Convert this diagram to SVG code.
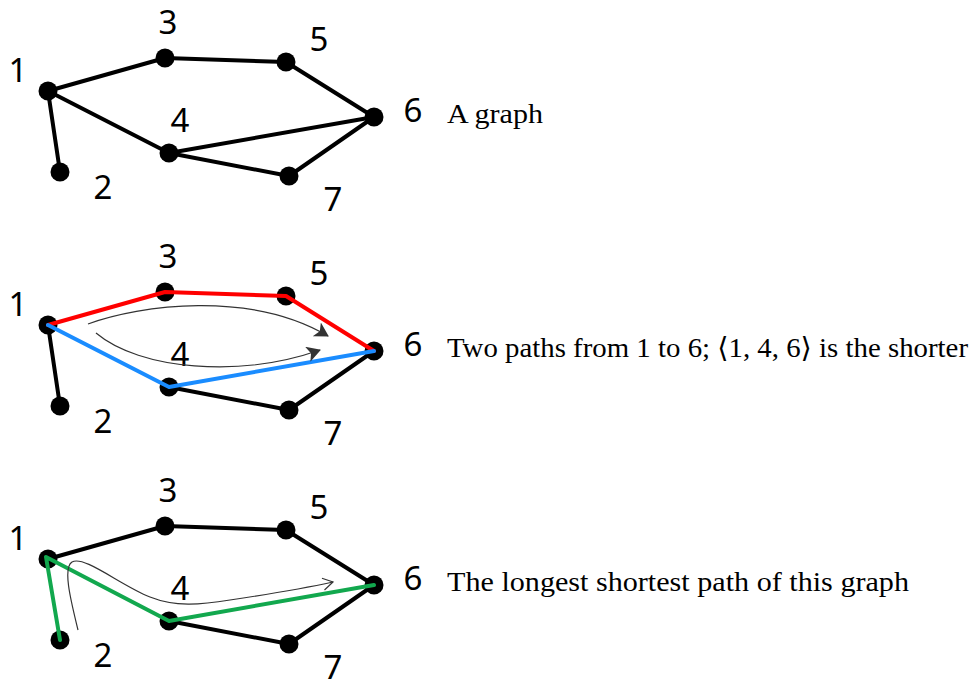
<svg xmlns="http://www.w3.org/2000/svg" width="972" height="679" viewBox="0 0 972 679">
<style>
.e{stroke:#000;stroke-width:4;fill:none;stroke-linecap:round}
.n{fill:#000}
.lb{font-family:"Noto Sans","Open Sans",sans-serif;font-size:33px;text-anchor:middle;fill:#000}
.cap{font-family:"Liberation Serif","DejaVu Serif",serif;font-size:28px;fill:#000}
.red{stroke:#ff0000;stroke-width:4;fill:none;stroke-linejoin:round;stroke-linecap:round}
.blue{stroke:#1a8cff;stroke-width:4;fill:none;stroke-linejoin:round;stroke-linecap:round}
.green{stroke:#12a84e;stroke-width:4;fill:none;stroke-linejoin:round;stroke-linecap:round}
.arr{stroke:#333;stroke-width:1.2;fill:none}
</style>
<defs>
<marker id="tri" markerUnits="userSpaceOnUse" markerWidth="18" markerHeight="18" refX="13" refY="8" orient="auto">
<path d="M0,0 L14,8 L0,16 L3.5,8 Z" fill="#333"/>
</marker>
<marker id="chev" markerUnits="userSpaceOnUse" markerWidth="16" markerHeight="16" refX="11" refY="7" orient="auto">
<path d="M1,1 L11,7 L1,13" fill="none" stroke="#333" stroke-width="1.2"/>
</marker>
</defs>

<!-- Graph 1 -->
<g id="graph1">
<g id="g1-edges">
<line class="e" x1="48" y1="91" x2="165" y2="58"/>
<line class="e" x1="165" y1="58" x2="286" y2="62"/>
<line class="e" x1="286" y1="62" x2="374" y2="117"/>
<line class="e" x1="48" y1="91" x2="169" y2="153"/>
<line class="e" x1="169" y1="153" x2="374" y2="117"/>
<line class="e" x1="169" y1="153" x2="289" y2="176"/>
<line class="e" x1="289" y1="176" x2="374" y2="117"/>
<line class="e" x1="48" y1="91" x2="60" y2="172"/>
</g>
<g id="g1-n1"><circle class="n" cx="48" cy="91" r="9.5"/><text class="lb" x="18" y="82">1</text></g>
<g id="g1-n2"><circle class="n" cx="60" cy="172" r="9.5"/><text class="lb" x="103" y="199">2</text></g>
<g id="g1-n3"><circle class="n" cx="165" cy="58" r="9.5"/><text class="lb" x="168" y="34">3</text></g>
<g id="g1-n4"><circle class="n" cx="169" cy="153" r="9.5"/><text class="lb" x="180" y="132">4</text></g>
<g id="g1-n5"><circle class="n" cx="286" cy="62" r="9.5"/><text class="lb" x="319" y="51">5</text></g>
<g id="g1-n6"><circle class="n" cx="374" cy="117" r="9.5"/><text class="lb" x="413" y="122">6</text></g>
<g id="g1-n7"><circle class="n" cx="289" cy="176" r="9.5"/><text class="lb" x="333" y="211">7</text></g>
<text id="cap1" class="cap" x="447" y="123" textLength="96" lengthAdjust="spacingAndGlyphs">A graph</text>
</g>

<!-- Graph 2 -->
<g id="graph2" transform="translate(0,234)">
<g id="g2-edges">
<line class="e" x1="169" y1="153" x2="289" y2="176"/>
<line class="e" x1="289" y1="176" x2="374" y2="117"/>
<line class="e" x1="48" y1="91" x2="60" y2="172"/>
</g>
<g id="g2-n1"><circle class="n" cx="48" cy="91" r="9.5"/><text class="lb" x="18" y="82">1</text></g>
<g id="g2-n2"><circle class="n" cx="60" cy="172" r="9.5"/><text class="lb" x="103" y="199">2</text></g>
<g id="g2-n3"><circle class="n" cx="165" cy="58" r="9.5"/><text class="lb" x="168" y="34">3</text></g>
<g id="g2-n4"><circle class="n" cx="169" cy="153" r="9.5"/><text class="lb" x="180" y="132">4</text></g>
<g id="g2-n5"><circle class="n" cx="286" cy="62" r="9.5"/><text class="lb" x="319" y="51">5</text></g>
<g id="g2-n6"><circle class="n" cx="374" cy="117" r="9.5"/><text class="lb" x="413" y="122">6</text></g>
<g id="g2-n7"><circle class="n" cx="289" cy="176" r="9.5"/><text class="lb" x="333" y="211">7</text></g>
<g id="g2-paths">
<polyline class="red" points="48,91 165,58 286,62 374,117"/>
<polyline class="blue" points="48,91 169,153 374,117"/>
<path class="arr" d="M88,90 C140,71 250,56 328,102" marker-end="url(#tri)"/>
<path class="arr" d="M96,99 C140,136 240,144 320,116" marker-end="url(#tri)"/>
</g>
<text id="cap2" class="cap" x="447" y="123" textLength="521" lengthAdjust="spacingAndGlyphs">Two paths from 1 to 6; ⟨1, 4, 6⟩ is the shorter</text>
</g>

<!-- Graph 3 -->
<g id="graph3" transform="translate(0,468)">
<g id="g3-edges">
<line class="e" x1="48" y1="91" x2="165" y2="58"/>
<line class="e" x1="165" y1="58" x2="286" y2="62"/>
<line class="e" x1="286" y1="62" x2="374" y2="117"/>
<line class="e" x1="169" y1="153" x2="289" y2="176"/>
<line class="e" x1="289" y1="176" x2="374" y2="117"/>
</g>
<g id="g3-n1"><circle class="n" cx="48" cy="91" r="9.5"/><text class="lb" x="18" y="82">1</text></g>
<g id="g3-n2"><circle class="n" cx="60" cy="172" r="9.5"/><text class="lb" x="103" y="199">2</text></g>
<g id="g3-n3"><circle class="n" cx="165" cy="58" r="9.5"/><text class="lb" x="168" y="34">3</text></g>
<g id="g3-n4"><circle class="n" cx="169" cy="153" r="9.5"/><text class="lb" x="180" y="132">4</text></g>
<g id="g3-n5"><circle class="n" cx="286" cy="62" r="9.5"/><text class="lb" x="319" y="51">5</text></g>
<g id="g3-n6"><circle class="n" cx="374" cy="117" r="9.5"/><text class="lb" x="413" y="122">6</text></g>
<g id="g3-n7"><circle class="n" cx="289" cy="176" r="9.5"/><text class="lb" x="333" y="211">7</text></g>
<g id="g3-paths">
<polyline class="green" points="60,172 46,89 169,153 374,117"/>
<path class="arr" d="M78,162 C72,137 62,100 72,94 C84,87 120,117 150,129 C175,139 200,137 230,132 C270,126 310,119 333,114" marker-end="url(#chev)"/>
</g>
<text id="cap3" class="cap" x="447" y="123" textLength="462" lengthAdjust="spacingAndGlyphs">The longest shortest path of this graph</text>
</g>
</svg>
